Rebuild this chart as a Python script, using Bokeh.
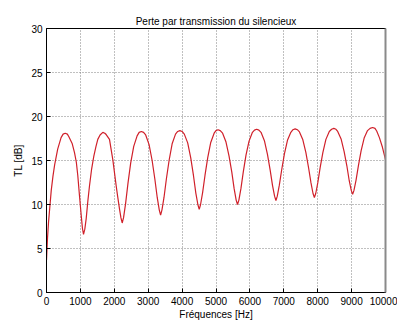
from bokeh.plotting import figure
from bokeh.models import Range1d, LinearAxis, FixedTicker, ColumnDataSource
from bokeh.embed import file_html
from bokeh.resources import INLINE

# Transmission loss curve
freq = [0, 30, 60, 100, 140, 190, 240, 330, 430, 490, 552,
        615, 660, 760, 826, 880, 923, 973, 1023, 1060, 1092, 1130, 1171, 1220, 1268, 1330, 1396, 1460, 1513, 1580, 1661,
        1720, 1760, 1858, 1956, 2056, 2100, 2153, 2195, 2233, 2273, 2333, 2403, 2483, 2573, 2673, 2733, 2798,
        2863, 2926, 3026, 3116, 3196, 3266, 3326, 3366, 3406, 3466, 3536, 3616, 3706, 3806, 3870, 3935,
        4000, 4065, 4165, 4255, 4335, 4405, 4465, 4505, 4545, 4605, 4675, 4755, 4845, 4945, 5000, 5060,
        5125, 5195, 5295, 5385, 5465, 5535, 5595, 5635, 5675, 5735, 5805, 5885, 5975, 6075, 6135, 6200,
        6265, 6328, 6428, 6518, 6598, 6668, 6728, 6768, 6808, 6868, 6938, 7018, 7108, 7208, 7270, 7335,
        7400, 7462, 7562, 7652, 7732, 7802, 7862, 7902, 7942, 8002, 8072, 8152, 8242, 8342, 8410, 8475,
        8540, 8590, 8690, 8780, 8860, 8930, 8990, 9030, 9070, 9130, 9200, 9280, 9370, 9470, 9545, 9620,
        9690, 9740, 9820, 9910, 10000]
tl_db = [3.7, 6.2, 8.0, 9.8, 11.6, 13.2, 14.5, 16.3, 17.6, 18.0, 18.1,
         18.0, 17.7, 16.9, 15.9, 14.8, 13.3, 11.0, 8.8, 7.3, 6.6, 7.2, 8.4, 10.4, 12.1, 14.0, 15.5, 16.6, 17.4, 17.9, 18.2,
         18.1, 17.95, 17.4, 15.1, 12.1, 10.9, 9.5, 8.5, 7.9, 8.5, 10.1, 12.4, 14.7, 16.6, 17.8, 18.2, 18.3,
         18.2, 17.9, 16.8, 15.0, 12.9, 10.8, 9.4, 8.8, 9.4, 10.8, 12.9, 15.0, 16.9, 18.0, 18.3, 18.4,
         18.3, 18.0, 17.0, 15.3, 13.3, 11.3, 10.0, 9.45, 10.0, 11.35, 13.3, 15.3, 17.05, 18.1, 18.4, 18.5,
         18.4, 18.1, 17.1, 15.5, 13.7, 11.8, 10.5, 10.0, 10.5, 11.8, 13.7, 15.6, 17.2, 18.2, 18.45, 18.55,
         18.45, 18.2, 17.25, 15.7, 13.9, 12.15, 10.95, 10.45, 10.95, 12.2, 13.95, 15.75, 17.3, 18.2, 18.5, 18.6,
         18.5, 18.25, 17.35, 15.9, 14.15, 12.45, 11.25, 10.8, 11.25, 12.45, 14.2, 15.9, 17.4, 18.3, 18.55, 18.65,
         18.55, 18.3, 17.45, 16.0, 14.4, 12.7, 11.6, 11.15, 11.6, 12.75, 14.4, 16.1, 17.55, 18.4, 18.65, 18.75,
         18.65, 18.35, 17.6, 16.5, 15.1]

x_ticks = [0, 1000, 2000, 3000, 4000, 5000, 6000, 7000, 8000, 9000, 10000]
y_ticks = [0, 5, 10, 15, 20, 25, 30]

title_text = "Perte par transmission du silencieux"
x_label = "Fréquences [Hz]"
y_label = "TL [dB]"

FONT = "Liberation Sans"

p = figure(width=397, height=322, output_backend="svg", toolbar_location=None,
           x_range=Range1d(0, 10000), y_range=Range1d(0, 30), title=title_text)
p.min_border_left = 46
p.min_border_right = 12
p.min_border_top = 28
p.min_border_bottom = 27
p.background_fill_color = "white"
p.border_fill_color = "white"
p.outline_line_color = "black"
p.outline_line_width = 1

p.title.align = "center"
p.title.text_font = FONT
p.title.text_font_size = "10px"
p.title.text_font_style = "normal"
p.title.text_color = "black"
p.title.standoff = 4

xt = FixedTicker(ticks=x_ticks)
yt = FixedTicker(ticks=y_ticks)

for ax, tk in ((p.xaxis[0], xt), (p.yaxis[0], yt)):
    ax.ticker = tk
    ax.major_tick_in = 4
    ax.major_tick_out = 0
    ax.minor_tick_line_color = None
    ax.axis_line_color = "black"
    ax.major_tick_line_color = "black"
    ax.major_label_text_font = FONT
    ax.major_label_text_font_size = "10px"
    ax.major_label_text_color = "black"
    ax.major_label_standoff = 4
    ax.axis_label_text_font = FONT
    ax.axis_label_text_font_size = "10px"
    ax.axis_label_text_font_style = "normal"
    ax.axis_label_text_color = "black"

p.xaxis[0].axis_label = x_label
p.xaxis[0].axis_label_standoff = 1
p.yaxis[0].axis_label = y_label
p.yaxis[0].axis_label_standoff = 4

# right frame edge (grey, no ticks or labels)
right_ax = LinearAxis(ticker=FixedTicker(ticks=[]), major_tick_in=0, major_tick_out=0,
                      minor_tick_line_color=None, axis_line_color="#8a8a8a", axis_line_width=2)
p.add_layout(right_ax, "right")

p.xgrid.ticker = xt
p.ygrid.ticker = yt
p.grid.grid_line_color = "#808080"
p.grid.grid_line_dash = "1 2"
p.grid.grid_line_width = 1

src = ColumnDataSource(dict(f=freq, tl=tl_db))
p.line("f", "tl", source=src, line_color="#d0202a", line_width=1.2)

open("out.html", "w").write(file_html(p, INLINE))
